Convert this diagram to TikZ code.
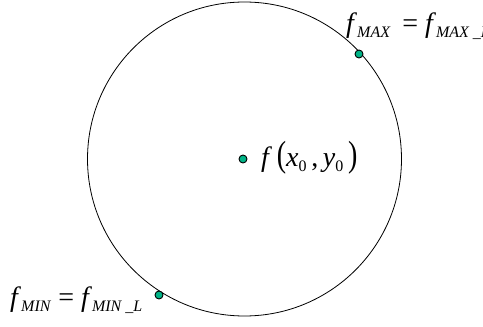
\documentclass[tikz,border=0pt]{standalone}
\usepackage{fontspec}
\setmainfont{Liberation Serif}
\definecolor{dotgreen}{RGB}{0,180,135}
\newcommand{\subtxt}[1]{\raisebox{-0.35ex}{\fontsize{16}{18}\selectfont#1}}
\newcommand{\fsub}[1]{\textit{f}\subtxt{\textit{#1}}}
\begin{document}
\begin{tikzpicture}[x=1pt, y=1pt, font=\fontsize{28}{32}\selectfont,
    dot/.style={circle, draw, line width=0.9pt, fill=dotgreen, inner sep=0pt, minimum size=8pt}]
    \useasboundingbox (0,0) rectangle (483,327);
    % Circle
    \draw[line width=0.8pt] (244.5,168) circle (157);
    \node[dot] (ctr) at (243,168) {};
    \node[dot] (top) at (359,273) {};
    \node[dot] (bot) at (159,32) {};
    % Labels
    \node[anchor=base west, inner sep=0pt] (toplbl) at (346,294) {\fsub{MAX}\, = \fsub{MAX \_L}};
    \node[anchor=base west, inner sep=0pt] (botlbl) at (10,20) {\fsub{MIN} = \fsub{MIN \_L}};
    \node[anchor=base west, inner sep=0pt] (ctrlbl) at (261,160) {\textit{f}\,\scalebox{1}[1.3]{(}\textit{x}\subtxt{0}\,,\,\textit{y}\subtxt{0}\,\scalebox{1}[1.3]{)}};
\end{tikzpicture}
\end{document}
